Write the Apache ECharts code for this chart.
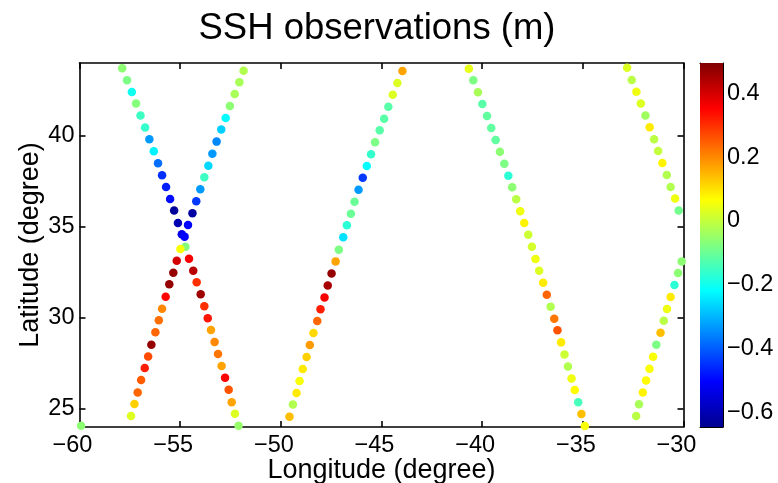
<!DOCTYPE html>
<html>
<head>
<meta charset="utf-8">
<script src="https://cdn.jsdelivr.net/npm/echarts@6/dist/echarts.min.js"></script>
<style>html,body{margin:0;padding:0;background:#fff;}#c{width:778px;height:483px;}</style>
</head>
<body>
<div id="c"></div>
<script>
// ---- data ----
const xTicks = [-60, -55, -50, -45, -40, -35, -30];
const yTicks = [25, 30, 35, 40];
const cbTicks = [-0.6, -0.4, -0.2, 0, 0.2, 0.4];
const cbMin = -0.644, cbMax = 0.494;

const trackA_lon = [-57.88,-57.64,-57.40,-57.19,-56.97,-56.74,-56.53,-56.31,-56.10,-55.90,-55.70,-55.50,-55.30,-55.11,-54.92,-54.74,-54.56,-54.35,-54.18,-53.98,-53.80,-53.63,-53.47,-53.29,-53.12,-52.94,-52.77,-52.59,-52.44,-52.28,-52.10];
const trackA_lat = [43.71,43.05,42.41,41.77,41.11,40.45,39.81,39.15,38.49,37.83,37.19,36.53,35.89,35.21,34.59,33.91,33.25,32.59,31.95,31.29,30.63,29.97,29.33,28.67,28.01,27.35,26.71,26.05,25.36,24.73,24.07];
const trackA_ssh = [-0.06,-0.08,-0.2,-0.07,-0.15,-0.16,-0.33,-0.23,-0.38,-0.45,-0.47,-0.49,-0.63,-0.6,-0.53,-0.07,0.36,0.43,0.3,0.46,0.3,0.33,0.17,0.2,0.22,0.17,0.35,0.26,0.17,0.03,-0.05];

const trackB_lon = [-51.85,-52.06,-52.29,-52.53,-52.74,-52.96,-53.19,-53.40,-53.60,-53.80,-54.00,-54.20,-54.39,-54.61,-54.78,-54.99,-55.17,-55.34,-55.54,-55.72,-55.90,-56.06,-56.23,-56.43,-56.59,-56.76,-56.94,-57.11,-57.27,-57.44];
const trackB_lat = [43.58,42.94,42.30,41.64,40.98,40.34,39.68,39.02,38.36,37.72,37.06,36.40,35.74,35.10,34.46,33.78,33.14,32.48,31.84,31.16,30.50,29.86,29.20,28.52,27.88,27.24,26.58,25.90,25.26,24.60];
const trackB_ssh = [-0.02,-0.03,-0.03,-0.06,-0.22,-0.27,-0.35,-0.33,-0.26,-0.15,-0.33,-0.44,-0.62,-0.5,-0.5,0.06,0.4,0.47,0.47,0.35,0.2,0.23,0.24,0.47,0.27,0.32,0.25,0.24,0.12,0.03];

const trackC_lon = [-59.92];
const trackC_lat = [24.07];
const trackC_ssh = [-0.06];

const trackD_lon = [-49.57,-49.40,-49.22,-49.07,-48.91,-48.72,-48.56,-48.38,-48.19,-48.03,-47.83,-47.67,-47.48,-47.28,-47.12,-46.90,-46.72,-46.52,-46.34,-46.14,-45.93,-45.73,-45.52,-45.32,-45.09,-44.87,-44.66,-44.44,-44.21,-43.96];
const trackD_lat = [24.57,25.23,25.87,26.53,27.19,27.85,28.51,29.16,29.82,30.47,31.12,31.78,32.44,33.10,33.74,34.42,35.08,35.72,36.38,37.04,37.70,38.34,38.98,39.64,40.30,40.94,41.60,42.26,42.90,43.56];
const trackD_ssh = [0.14,-0.02,0.09,0.06,0.09,0.12,0.18,0.11,0.24,0.32,0.36,0.45,0.47,0.17,-0.08,-0.25,-0.17,-0.1,-0.1,-0.33,-0.44,-0.22,-0.16,-0.08,-0.12,-0.12,-0.12,0.03,0.03,0.17];

const trackE_lon = [-40.66,-40.44,-40.21,-39.99,-39.76,-39.55,-39.33,-39.12,-38.90,-38.70,-38.51,-38.31,-38.11,-37.91,-37.71,-37.53,-37.35,-37.17,-36.97,-36.79,-36.60,-36.42,-36.26,-36.08,-35.91,-35.74,-35.56,-35.40,-35.23,-35.07,-34.90];
const trackE_lat = [43.69,43.05,42.39,41.75,41.09,40.43,39.77,39.13,38.47,37.81,37.17,36.51,35.85,35.21,34.57,33.91,33.23,32.59,31.93,31.27,30.61,29.95,29.31,28.65,27.99,27.33,26.67,26.03,25.36,24.71,24.05];
const trackE_ssh = [0.04,-0.08,-0.03,-0.12,-0.11,-0.11,-0.11,-0.06,-0.08,-0.17,-0.06,-0.01,0.05,0.08,0.01,0.02,0.05,0.03,0.09,0.24,-0.02,0.22,0.26,0.09,0.01,-0.02,0.05,0.07,-0.14,0.14,0.06];

const trackF_lon = [-32.80,-32.57,-32.34,-32.12,-31.89,-31.68,-31.46,-31.26,-31.05,-30.83,-30.64,-30.42,-30.24];
const trackF_lat = [43.74,43.07,42.42,41.78,41.12,40.47,39.81,39.16,38.51,37.85,37.19,36.55,35.89];
const trackF_ssh = [0.03,-0.01,0.05,0.03,-0.04,0.09,-0.01,0.0,0.08,-0.02,-0.02,0.05,-0.09];

const trackG_lon = [-32.35,-32.21,-32.02,-31.86,-31.69,-31.51,-31.35,-31.14,-30.98,-30.82,-30.64,-30.45,-30.27,-30.09];
const trackG_lat = [24.60,25.25,25.89,26.56,27.20,27.86,28.52,29.18,29.84,30.48,31.14,31.80,32.46,33.10];
const trackG_ssh = [-0.01,-0.03,0.08,0.07,0.06,0.06,-0.08,0.14,-0.01,0.05,0.09,-0.17,-0.06,-0.06];

const tracks = [
  [trackA_lon, trackA_lat, trackA_ssh],
  [trackB_lon, trackB_lat, trackB_ssh],
  [trackC_lon, trackC_lat, trackC_ssh],
  [trackD_lon, trackD_lat, trackD_ssh],
  [trackE_lon, trackE_lat, trackE_ssh],
  [trackF_lon, trackF_lat, trackF_ssh],
  [trackG_lon, trackG_lat, trackG_ssh]
];

const jet = ['#00008f','#0000ff','#0080ff','#00ffff','#80ff80','#ffff00','#ff8000','#ff0000','#800000'];

// ---- chart ----
const FONT = 'Liberation Sans, Arial, Helvetica, sans-serif';
const fmtMinus = v => (v < 0 ? '\u2212' : '') + Math.abs(v);
const fmtCb = v => (Math.abs(v) < 1e-9 ? '0' : (v < 0 ? '\u2212' : '') + Math.abs(v).toFixed(1));
const lineS = { color: '#000', width: 1.6 };

const chart = echarts.init(document.getElementById('c'), null, { renderer: 'canvas' });

const scatterSeries = tracks.map(t => ({
  type: 'scatter',
  xAxisIndex: 0, yAxisIndex: 0,
  symbolSize: 8.5,
  data: t[0].map((x, i) => [x, t[1][i], t[2][i]]),
  itemStyle: { opacity: 1 },
  emphasis: { disabled: true }
}));

const stops = jet.map((c, i) => ({ offset: i / (jet.length - 1), color: c }));

const option = {
  animation: false,
  backgroundColor: '#fff',
  textStyle: { fontFamily: FONT },
  graphic: [{
    type: 'text', x: 377, y: 29,
    style: { text: 'SSH observations (m)', font: '36.5px ' + FONT, fill: '#000', textAlign: 'center', textVerticalAlign: 'middle' }
  }],
  grid: [
    { left: 79.5, top: 63, width: 604, height: 364, containLabel: false, outerBoundsMode: 'none' },
    { left: 700, top: 63, width: 23, height: 364, containLabel: false, outerBoundsMode: 'none' }
  ],
  visualMap: {
    type: 'continuous', show: false, min: cbMin, max: cbMax, dimension: 2,
    seriesIndex: scatterSeries.map((s, i) => i),
    inRange: { color: jet }
  },
  xAxis: [
    { gridIndex: 0, type: 'value', position: 'bottom', min: -60, max: -30, interval: 5,
      axisLine: { show: true, onZero: false, lineStyle: lineS },
      axisTick: { show: true, inside: true, length: 6, lineStyle: lineS },
      axisLabel: { fontSize: 23.5, color: '#000', margin: 7, fontFamily: FONT, formatter: fmtMinus, padding: [0, 14, 0, 0] },
      splitLine: { show: false },
      name: 'Longitude (degree)', nameLocation: 'middle', nameGap: 30, nameMoveOverlap: false,
      nameTextStyle: { fontSize: 27, color: '#000', fontFamily: FONT } },
    { gridIndex: 0, type: 'value', position: 'top', min: -60, max: -30, interval: 5,
      axisLine: { show: true, onZero: false, lineStyle: lineS },
      axisTick: { show: true, inside: true, length: 6, lineStyle: lineS },
      axisLabel: { show: false }, splitLine: { show: false } },
    { gridIndex: 1, type: 'value', position: 'bottom', min: 0, max: 1,
      axisLine: { show: true, onZero: false, lineStyle: { color: '#000', width: 1 } },
      axisTick: { show: false }, axisLabel: { show: false }, splitLine: { show: false } },
    { gridIndex: 1, type: 'value', position: 'top', min: 0, max: 1,
      axisLine: { show: true, onZero: false, lineStyle: { color: '#000', width: 1 } },
      axisTick: { show: false }, axisLabel: { show: false }, splitLine: { show: false } }
  ],
  yAxis: [
    { gridIndex: 0, type: 'value', position: 'left', min: 24, max: 44,
      axisLine: { show: true, onZero: false, lineStyle: lineS },
      axisTick: { show: true, inside: true, length: 6, lineStyle: lineS, customValues: yTicks },
      axisLabel: { fontSize: 23.5, color: '#000', margin: 5, fontFamily: FONT, customValues: yTicks, formatter: fmtMinus },
      splitLine: { show: false },
      name: 'Latitude (degree)', nameLocation: 'middle', nameGap: 35, nameMoveOverlap: false,
      nameTextStyle: { fontSize: 27, color: '#000', fontFamily: FONT } },
    { gridIndex: 0, type: 'value', position: 'right', min: 24, max: 44,
      axisLine: { show: true, onZero: false, lineStyle: lineS },
      axisTick: { show: true, inside: true, length: 6, lineStyle: lineS, customValues: yTicks },
      axisLabel: { show: false }, splitLine: { show: false } },
    { gridIndex: 1, type: 'value', position: 'right', min: cbMin, max: cbMax,
      axisLine: { show: true, onZero: false, lineStyle: { color: '#000', width: 1 } },
      axisTick: { show: true, inside: true, length: 3, lineStyle: { color: '#000', width: 1 }, customValues: cbTicks },
      axisLabel: { fontSize: 23.5, color: '#000', margin: 4, fontFamily: FONT, customValues: cbTicks, formatter: fmtCb },
      splitLine: { show: false } },
    { gridIndex: 1, type: 'value', position: 'left', min: cbMin, max: cbMax,
      axisLine: { show: true, onZero: false, lineStyle: { color: '#000', width: 1 } },
      axisTick: { show: true, inside: true, length: 3, lineStyle: { color: '#000', width: 1 }, customValues: cbTicks },
      axisLabel: { show: false }, splitLine: { show: false } }
  ],
  series: scatterSeries.concat([{
    type: 'custom',
    xAxisIndex: 2, yAxisIndex: 2,
    z: 1,
    clip: false,
    silent: true,
    encode: { x: 0, y: [1, 2] },
    data: [[0, cbMin, cbMax]],
    renderItem: (params, api) => {
      const p0 = api.coord([0, api.value(2)]);
      const p1 = api.coord([1, api.value(1)]);
      return {
        type: 'rect',
        shape: { x: p0[0], y: p0[1], width: p1[0] - p0[0], height: p1[1] - p0[1] },
        style: { fill: new echarts.graphic.LinearGradient(0, 1, 0, 0, stops) }
      };
    }
  }])
};

chart.setOption(option);
</script>
</body>
</html>
